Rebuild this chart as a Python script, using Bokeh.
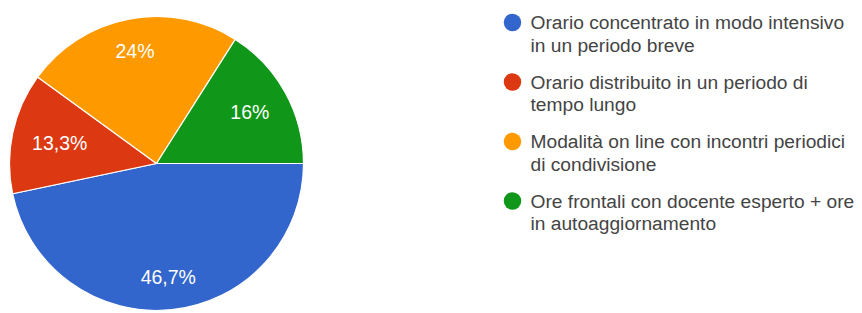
import math
from bokeh.plotting import figure
from bokeh.models import Range1d, ColumnDataSource
from bokeh.core.properties import value
from bokeh.embed import file_html
from bokeh.resources import INLINE

# ---- data ----
categories = [
    "Orario concentrato in modo intensivo\nin un periodo breve",
    "Orario distribuito in un periodo di\ntempo lungo",
    "Modalità on line con incontri periodici\ndi condivisione",
    "Ore frontali con docente esperto + ore\nin autoaggiornamento",
]
percentages = [46.7, 13.3, 24.0, 16.0]
colors = ["#3366cc", "#dc3912", "#ff9900", "#109618"]

# ---- layout (page pixels; the figure sits at the page origin) ----
W, H = 862, 313
CX, CY, R = 156, 163, 147
FONT = "Liberation Sans"
LABEL_SIZE = 19.5
LEGEND_SIZE = 19.2


def fx(px):
    return px


def fy(py):
    return H - py


p = figure(width=W, height=H, output_backend="svg", toolbar_location=None,
           x_range=Range1d(0, W), y_range=Range1d(0, H),
           x_axis_type=None, y_axis_type=None, min_border=0)
p.grid.visible = False
p.outline_line_color = None
p.background_fill_color = "white"

total = sum(percentages)
starts, ends = [], []
cum = 0.0
for v in percentages:
    starts.append(-cum / total * 2 * math.pi)
    cum += v
    ends.append(-cum / total * 2 * math.pi)

src = ColumnDataSource(dict(x=[fx(CX)] * 4, y=[fy(CY)] * 4, start=starts, end=ends,
                            color=colors))
p.wedge(x="x", y="y", radius=R, start_angle="start", end_angle="end",
        direction="clock", fill_color="color", line_color="white", line_width=1.2,
        source=src)

# slice labels
cw = {"0": .556, "1": .556, "2": .556, "3": .556, "4": .556, "5": .556, "6": .556,
      "7": .556, "8": .556, "9": .556, ",": .278, "%": .889}
lx, ly, lt = [], [], []
for v, a0, a1 in zip(percentages, starts, ends):
    txt = f"{v:g}".replace(".", ",") + "%"
    mid = (a0 + a1) / 2
    c, s = math.cos(mid), math.sin(mid)
    hw = sum(cw.get(ch, .556) for ch in txt) * LABEL_SIZE / 2
    hh = 8
    r = 0.0
    limit = 0.87 * R
    while True:
        rn = r + 0.5
        cx_, cy_ = rn * c, rn * s
        far = max(math.hypot(cx_ + ddx, cy_ + ddy) for ddx in (-hw, hw) for ddy in (-hh, hh))
        if far > limit:
            break
        r = rn
    lx.append(fx(CX) + r * c)
    ly.append(fy(CY) + r * s)
    lt.append(txt)

p.text(x=lx, y=ly, text=lt, text_align="center", text_baseline="middle",
       text_color="white", text_font=value(FONT), text_font_size=f"{LABEL_SIZE}px")

# legend
dot_x, text_x = 512, 530
first_y, entry_gap, line_gap = 22, 59.5, 22.5
dx, dy, dc = [], [], []
tx, ty, tt = [], [], []
for i, (lab, col) in enumerate(zip(categories, colors)):
    y0 = first_y + i * entry_gap
    dx.append(fx(dot_x))
    dy.append(fy(y0))
    dc.append(col)
    for j, line in enumerate(lab.split("\n")):
        tx.append(fx(text_x))
        ty.append(fy(y0 + j * line_gap))
        tt.append(line)

p.scatter(x=dx, y=dy, marker="circle", size=17.5, fill_color=dc, line_color=None)
p.text(x=tx, y=ty, text=tt, text_align="left", text_baseline="middle",
       text_color="#444444", text_font=value(FONT), text_font_size=f"{LEGEND_SIZE}px")

open("out.html", "w").write(file_html(p, INLINE))
